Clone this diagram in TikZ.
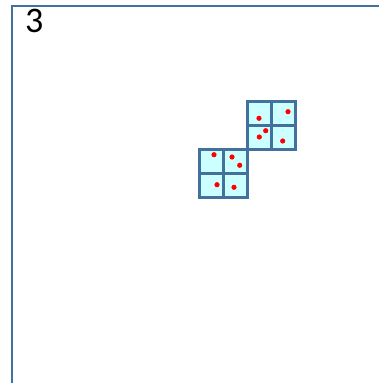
\documentclass[tikz,border=0pt]{standalone}
\usepackage{fontspec}
\setmainfont{Carlito}
\definecolor{frameblue}{HTML}{41719C}
\definecolor{cellfill}{HTML}{CCFFFF}
\begin{document}
\begin{tikzpicture}[x=1pt,y=-1pt,
  cellbox/.style={draw=frameblue,fill=cellfill,line width=3pt},
  grain/.style={fill=red,draw=none},
  framecol/.style={draw=frameblue,line width=2.5pt}]
\useasboundingbox (0,0) rectangle (379,383);
\coordinate (tl) at (12,6);
\coordinate (tr) at (379,6);
\coordinate (bl) at (12,383);
\draw[framecol] (bl) -- (tl) -- (tr);
\node[anchor=north west,inner sep=0pt,font=\fontsize{36}{36}\selectfont] (lbl) at (25,9) {3};
% upper block
\foreach \i in {0,1} \foreach \j in {0,1}
  \draw[cellbox] (247+24*\i,101+24*\j) rectangle ++(24,24);
% lower block
\foreach \i in {0,1} \foreach \j in {0,1}
  \draw[cellbox] (199+24*\i,149+24*\j) rectangle ++(24,24);
% dots
\foreach \p in {(259,118.3),(288,111.7),(265.7,130.7),(259.3,137),(282.7,141),
  (214,154.7),(232,157),(239.7,165.3),(217,184.7),(234,187.3)}
  \fill[grain] \p circle (2.6);
\end{tikzpicture}
\end{document}
